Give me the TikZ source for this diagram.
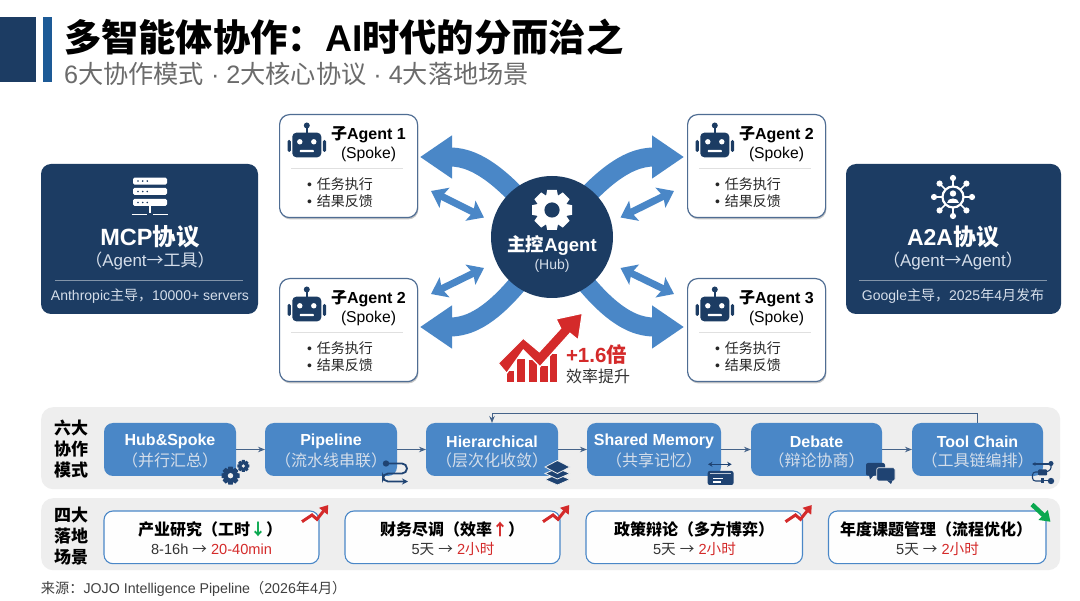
\documentclass[tikz,border=0pt]{standalone}
\usepackage{fontspec}
\usetikzlibrary{arrows.meta,shadows,calc}
\setmainfont{Liberation Sans}
\newfontfamily\cjkfont{Noto Sans CJK SC}
\newcommand\zh[1]{{\cjkfont #1}}
\newcommand\sz[1]{\fontsize{#1}{#1}\selectfont}
\definecolor{navy}{HTML}{1C3C63}
\definecolor{bar}{HTML}{1D5A96}
\definecolor{midblue}{HTML}{4A87C7}
\definecolor{iconblue}{HTML}{1F4372}
\definecolor{edge}{HTML}{4F6D93}
\definecolor{panel}{HTML}{EEEEEE}
\definecolor{softw}{HTML}{D5DEEA}
\definecolor{alert}{HTML}{D42A2A}
\definecolor{upgreen}{HTML}{0AA84F}
\tikzset{
  txt/.style={inner sep=0pt,outer sep=0pt,text=#1},
  txt/.default=black,
  spokebox/.style={draw=edge,line width=1.2pt,fill=white,rounded corners=10pt,minimum width=138pt,minimum height=103pt,inner sep=0pt,drop shadow={shadow xshift=.8pt,shadow yshift=-1.8pt,opacity=.22,fill=black}},
  protobox/.style={fill=navy,rounded corners=10pt,inner sep=0pt,outer sep=0pt},
  strip/.style={fill=panel,rounded corners=12pt,inner sep=0pt},
  modebox/.style={fill=midblue,rounded corners=9pt,inner sep=0pt,outer sep=0pt,minimum height=53pt},
  scenebox/.style={draw=midblue,line width=1.1pt,fill=white!96!panel,rounded corners=9pt,inner sep=0pt,outer sep=0pt,minimum height=52.7pt},
  bigarr/.style={midblue,line width=19pt,-{Triangle[width=41pt,length=32pt]}},
  smallarr/.style={midblue,line width=7pt,{Stealth[width=22pt,length=15pt,inset=3pt]}-{Stealth[width=22pt,length=15pt,inset=3pt]}},
  link/.style={color=edge!80!navy,line width=1pt,-{Stealth[length=7pt,width=5.5pt]}},
  divline/.style={line width=.7pt},
}
\newcommand\gearicon[6]{% x,y,r,colour,hole colour,hole ratio
  \begin{scope}[shift={(#1,#2)},scale=#3]
    \foreach \a in {0,45,...,315}{\fill[#4,rotate=\a] (-.24,-1)--(.24,-1)--(.32,-.6)--(-.32,-.6)--cycle;}
    \fill[#4] (0,0) circle (.76);
    \fill[#5] (0,0) circle (#6);
  \end{scope}}
\newcommand\roboticon[2]{%
  \begin{scope}[shift={(#1,#2)}]
    \draw[navy,line width=1.6pt] (0,-12)--(0,-19);
    \fill[navy] (0,-19.5) circle (3);
    \fill[navy,rounded corners=4pt] (-14.5,-12.3) rectangle (14.5,12.3);
    \fill[navy,rounded corners=1.5pt] (-19.3,-5) rectangle (-16,7);
    \fill[navy,rounded corners=1.5pt] (16,-5) rectangle (19.3,7);
    \fill[white] (-7,-3.2) circle (2.7);
    \fill[white] (7,-3.2) circle (2.7);
    \fill[white,rounded corners=.6pt] (-7,5) rectangle (7,7.2);
  \end{scope}}
\newcommand\spoke[4]{% name, left, top, title
  \node[spokebox,anchor=north west] (#1) at (#2,#3) {};
  \roboticon{#2+27.8}{#3+31}
  \node[txt] (#1t) at (#2+89.5,#3+20.5) {\sz{16}\bfseries\zh{子}#4};
  \node[txt] (#1s) at (#2+89.5,#3+40) {\sz{15.7}(Spoke)};
  \draw[divline,color=black!12] (#2+12,#3+54) -- (#2+124,#3+54);
  \node[txt=black!85,anchor=west] (#1b) at (#2+28,#3+70) {\sz{14}•\hspace{5pt}\zh{任务执行}};
  \node[txt=black!85,anchor=west] (#1c) at (#2+28,#3+87.5) {\sz{14}•\hspace{5pt}\zh{结果反馈}};
}
\newcommand\mode[5]{% name,left,right,title,sub
  \node[modebox,minimum width=#3-#2,anchor=north west] (#1) at (#2,423) {};
  \node[txt=white] (#1t) at ($(#2,441.3)!.5!(#3,441.3)$) {\sz{16}\bfseries #4};
  \node[txt=softw] (#1s) at ($(#2,460)!.5!(#3,460)$) {\sz{16}\zh{#5}};
}
\newcommand\trend[2]{% anchored at top right corner of a scene box
  \draw[alert,line width=3pt,line join=miter,-{Triangle[width=10.5pt,length=8pt]}] (#1-17,#2+10.7)--(#1-7,#2+4)--(#1-2,#2+8.3)--(#1+9.3,#2-6);
}
\newcommand\scene[7]{% name,left,right,title centre,second centre,title,second
  \node[scenebox,minimum width=#3-#2,anchor=north west] (#1) at (#2,511) {};
  \node[txt] (#1t) at (#4,529) {\sz{16}\bfseries #6};
  \node[txt=black!80] (#1s) at (#5,549) {\sz{14.6}#7};
}
\begin{document}
\begin{tikzpicture}[x=1pt,y=-1pt]
\useasboundingbox (0,0) rectangle (1080,601);
\fill[white] (0,0) rectangle (1080,601);
% header
\fill[navy] (0,17) rectangle (36,82);
\fill[bar] (43,17) rectangle (52,82);
\node[txt,anchor=west] (title) at (64,37) {\sz{37.3}\bfseries\zh{多智能体协作：}AI\zh{时代的分而治之}};
\node[txt=black!58,anchor=west] (subtitle) at (64,74) {\sz{25.2}6\zh{大协作模式} · 2\zh{大核心协议} · 4\zh{大落地场景}};
% protocol panels
\node[protobox,minimum width=217pt,minimum height=150pt,anchor=north west] (mcp) at (41,164) {};
\node[protobox,minimum width=215pt,minimum height=150pt,anchor=north west] (a2a) at (846,164) {};
% server icon
\foreach \yy in {177.6,188,199}{
  \fill[white,rounded corners=1.5pt] (133,\yy) rectangle (167,\yy+7);
  \foreach \xx in {138,142.7,147.3}{\fill[navy] (\xx,\yy+3.5) circle (.9);}
}
\draw[white,line width=1.5pt] (150,206)--(150,213);
\draw[white,line width=1.6pt] (131.7,214.5)--(146.7,214.5) (153.3,214.5)--(168,214.5);
\node[txt=white] (mcpt) at (150,237) {\sz{23.5}\bfseries MCP\zh{协议}};
\node[txt=softw] (mcps) at (150,261) {\sz{17}\zh{（}Agent\zh{→工具）}};
\draw[divline,color=white!45!navy] (55,280)--(243,280);
\node[txt=softw] (mcpn) at (150,296) {\sz{14}Anthropic\zh{主导，}10000+ servers};
% network icon
\foreach \a in {0,45,...,315}{
  \draw[white,line width=1.5pt] (953,197)++(\a:10)--++(\a:9);
  \fill[white] (953,197)++(\a:19) circle (3.1);
}
\draw[white,line width=2.2pt] (953,197) circle (10.5);
\fill[white] (953,193.5) circle (3.2);
\fill[white] (947,203)..controls (947,197.5) and (959,197.5)..(959,203)--cycle;
\node[txt=white] (a2at) at (953,237) {\sz{23}\bfseries A2A\zh{协议}};
\node[txt=softw] (a2as) at (953,261) {\sz{17}\zh{（}Agent\zh{→}Agent\zh{）}};
\draw[divline,color=white!45!navy] (859,280)--(1047,280);
\node[txt=softw] (a2an) at (953,296) {\sz{14}Google\zh{主导，}2025\zh{年}4\zh{月发布}};
% spokes
\spoke{sa}{279}{114}{Agent 1}
\spoke{sb}{687}{114}{Agent 2}
\spoke{sc}{279}{278}{Agent 2}
\spoke{sd}{687}{278}{Agent 3}
% hub and arrows
\coordinate (hubc) at (552,237);
\coordinate (tipa) at (420,157);
\coordinate (tipb) at (684,157);
\coordinate (tipc) at (420,327);
\coordinate (tipd) at (684,327);
\draw[bigarr] (hubc) .. controls (508,180) and (478,157) .. (tipa);
\draw[bigarr] (hubc) .. controls (596,180) and (626,157) .. (tipb);
\draw[bigarr] (hubc) .. controls (508,304) and (478,327) .. (tipc);
\draw[bigarr] (hubc) .. controls (596,304) and (626,327) .. (tipd);
\node[circle,fill=navy,minimum size=122pt,inner sep=0pt,outer sep=0pt] (hub) at (hubc) {};
\gearicon{552}{210}{20}{white}{navy}{.38}
\node[txt=white] (hubt) at (552,245) {\sz{18.5}\bfseries\zh{主控}Agent};
\node[txt=softw] (hubs) at (552,266) {\sz{14}(Hub)};
\coordinate (a1) at (431,191); \coordinate (a2) at (484,217.5);
\coordinate (b1) at (674,191); \coordinate (b2) at (620.5,217.5);
\coordinate (c1) at (431,294); \coordinate (c2) at (484,268);
\coordinate (d1) at (674,294); \coordinate (d2) at (620.5,268);
\draw[smallarr] (a1)--(a2);
\draw[smallarr] (b1)--(b2);
\draw[smallarr] (c1)--(c2);
\draw[smallarr] (d1)--(d2);
% gain chart
\fill[alert] (507,371) rectangle (513.5,382.5);
\fill[alert] (517,359) rectangle (525,382.5);
\fill[alert] (529,360) rectangle (537,382.5);
\fill[alert] (540,366) rectangle (548,382.5);
\fill[alert] (550,354) rectangle (557,382.5);
\fill[alert,draw=white,line width=1.2pt,line join=miter] (498.3,363.3)--(523.3,338.3)--(539.3,351.7)--(560.7,328.3)--(556,319)--(582.3,313.3)--(578.3,340)--(570,333.3)--(540,366.7)--(523.3,350)--(506.7,373.3)--cycle;
\node[txt=alert,anchor=west] (gain) at (566,355) {\sz{20.5}\bfseries +1.6\zh{倍}};
\node[txt=black!80,anchor=west] (gainl) at (566,376) {\sz{16}\zh{效率提升}};
% mode strip
\node[strip,minimum width=1019pt,minimum height=82pt,anchor=north west] (modes) at (41,407) {};
\node[strip,minimum width=1019pt,minimum height=72pt,anchor=north west] (scenes) at (41,498) {};
\node[txt] (m1) at (71,428) {\sz{17}\bfseries\zh{六大}};
\node[txt] (m2) at (71,449) {\sz{17}\bfseries\zh{协作}};
\node[txt] (m3) at (71,470) {\sz{17}\bfseries\zh{模式}};
\node[txt] (s1) at (71,515) {\sz{17}\bfseries\zh{四大}};
\node[txt] (s2) at (71,536) {\sz{17}\bfseries\zh{落地}};
\node[txt] (s3) at (71,557) {\sz{17}\bfseries\zh{场景}};
\mode{hs}{104}{236}{Hub\&Spoke}{（并行汇总）}
\mode{pl}{265}{397}{Pipeline}{（流水线串联）}
\mode{hi}{426}{558}{Hierarchical}{（层次化收敛）}
\mode{sm}{587}{721}{Shared Memory}{（共享记忆）}
\mode{db}{751}{882}{Debate}{（辩论协商）}
\mode{tc}{912}{1043}{Tool Chain}{（工具链编排）}
\draw[link] (hs.east)--(pl.west);
\draw[link] (pl.east)--(hi.west);
\draw[link] (hi.east)--(sm.west);
\draw[link] (sm.east)--(db.west);
\draw[link] (db.east)--(tc.west);
\draw[link] (tc.north) -- ++(0,-9.7) -| (hi.north);
% mode icons
\gearicon{230.5}{475.7}{9}{iconblue}{panel}{.3}
\gearicon{243.3}{466}{6}{iconblue}{panel}{.3}
\fill[iconblue] (386,463.5) circle (3.2);
\draw[iconblue,line width=1.8pt,rounded corners=5pt,-{Stealth[length=6pt,width=6pt]}] (386,463.5)--(407,463.5)--(407,473.5)--(383,473.5)--(383,481.5)--(408,481.5);
\fill[iconblue,draw=panel,line width=.8pt] (545,479.5)--(557.4,474.2)--(570,479.5)--(557.4,485)--cycle;
\fill[iconblue,draw=panel,line width=.8pt] (545,473.5)--(557.4,468.2)--(570,473.5)--(557.4,479)--cycle;
\fill[iconblue,draw=panel,line width=.8pt] (545,467)--(557.4,460.5)--(570,467)--(557.4,473.5)--cycle;
\draw[iconblue,line width=1.2pt,{Stealth[length=4.5pt,width=5pt]}-{Stealth[length=4.5pt,width=5pt]}] (708,464.3)--(731.7,464.3);
\fill[iconblue,rounded corners=2pt] (707.7,471) rectangle (733.5,485);
\draw[white!70!iconblue,line width=.7pt] (710,473.5)--(731,473.5);
\draw[white,line width=1.2pt] (713,478.5)--(723,478.5) (713,482)--(721,482);
\fill[iconblue,rounded corners=2pt] (866,463) rectangle (885,475.7);
\fill[iconblue] (869,475)--(874,475)--(870,479.5)--cycle;
\fill[iconblue,draw=panel,line width=.7pt,rounded corners=2pt] (876.7,467.7) rectangle (895,481);
\fill[iconblue] (887,480.5)--(892.5,480.5)--(891,484)--cycle;
\draw[iconblue,line width=1.1pt,{Stealth[length=3.5pt,width=3.5pt]}-] (1032,464)--(1050,464);
\fill[iconblue] (1051,463.5) circle (2.5);
\draw[iconblue,line width=1.1pt,rounded corners=2.5pt] (1051,465)--(1051,470)--(1047,471.5);
\draw[iconblue,line width=1.1pt,rounded corners=3pt] (1038,472)--(1032.5,472)--(1032.5,481)--(1041,481);
\fill[iconblue,rounded corners=1pt] (1038,469.5) rectangle (1047,475.5);
\fill[iconblue] (1041,478.5) rectangle (1044,483.5);
\draw[iconblue,line width=1pt] (1044,481)--(1048,481);
\fill[iconblue] (1051,481) circle (3.2);
% scenes
\scene{ra}{104}{319}{210}{211.5}{\zh{产业研究（工时}\textcolor{upgreen}{\zh{↓}}\zh{）}}{8-16h \zh{→} \textcolor{alert}{20-40min}}
\scene{rb}{345}{560}{452}{453}{\zh{财务尽调（效率}\textcolor{alert}{\zh{↑}}\zh{）}}{5\zh{天} \zh{→} \textcolor{alert}{2\zh{小时}}}
\scene{rc}{586}{802.5}{694}{694.5}{\zh{政策辩论（多方博弈）}}{5\zh{天} \zh{→} \textcolor{alert}{2\zh{小时}}}
\scene{rd}{828.5}{1046}{936}{937.5}{\zh{年度课题管理（流程优化）}}{5\zh{天} \zh{→} \textcolor{alert}{2\zh{小时}}}
\trend{319}{511}
\trend{560}{511}
\trend{802.5}{511}
\draw[upgreen,line width=4.5pt,-{Triangle[width=13pt,length=10pt]}] (1032,504.5)--(1050.5,521.8);
\node[txt=black!75,anchor=west] (src) at (41,589) {\sz{14.2}\zh{来源：}JOJO Intelligence Pipeline\zh{（}2026\zh{年}4\zh{月）}};
\end{tikzpicture}
\end{document}
